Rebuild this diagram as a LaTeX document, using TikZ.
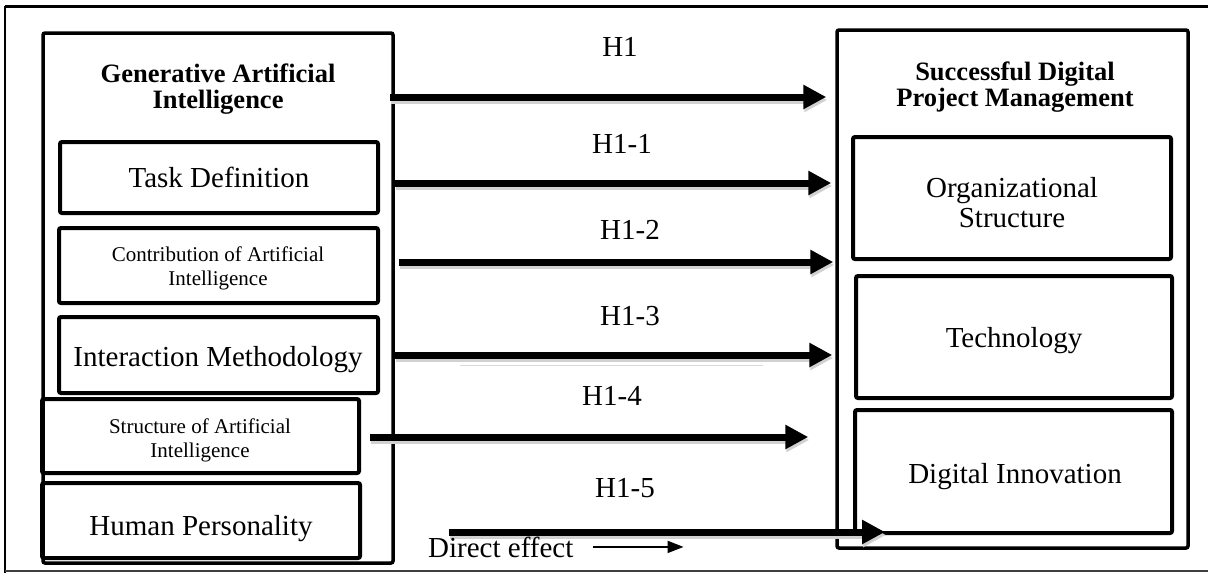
\documentclass[tikz,border=0pt]{standalone}
\usepackage{fontspec}
\setmainfont{Liberation Serif}
\usetikzlibrary{arrows.meta}
\newcommand\fsA{\fontsize{29}{30}\selectfont}
\newcommand\fsB{\fontsize{26.5}{26}\selectfont\bfseries}
\newcommand\fsC{\fontsize{21}{23.5}\selectfont}
\begin{document}
\begin{tikzpicture}[x=1pt,y=-1pt,
  box/.style={draw, line width=4pt, rounded corners=2pt, inner sep=0pt},
  bigbox/.style={draw, line width=3.5pt, rounded corners=2pt, inner sep=0pt},
  txt/.style={inner sep=0pt, font=\fsA},
  ttl/.style={inner sep=0pt, font=\fsB, align=center, anchor=north},
  sml/.style={inner sep=0pt, font=\fsC, align=center, anchor=north},
  hyp/.style={line width=7pt, -{Triangle[length=23pt,width=23pt]}},
  shd/.style={line width=7pt, draw=black!18, -{Triangle[length=23pt,width=23pt]}, transform canvas={shift={(1pt,-3pt)}}},
  thinarrow/.style={line width=1.8pt, -{Triangle[length=16pt,width=12pt]}}
]
\useasboundingbox (0,0) rectangle (1208,573);
% outer frame
\draw[line width=3pt] (5,6) -- (1208,6);
\draw[line width=2pt] (5,6) -- (5,573);
\draw[line width=1.5pt, black!75] (5,571) -- (1208,571);

% left group
\node[bigbox, minimum width=350pt, minimum height=530pt] (gai) at (218,298) {};
\node[ttl] (gait) at (218,64) {Generative Artificial\\Intelligence};
\node[box, minimum width=318pt, minimum height=71pt] (task) at (219,177.5) {};
\node[txt, anchor=base] at (219,187) {Task Definition};
\node[box, minimum width=319pt, minimum height=75pt] (contr) at (218.5,265.5) {};
\node[sml] at (218,247) {Contribution of Artificial\\Intelligence};
\node[box, minimum width=319pt, minimum height=76pt] (inter) at (218.5,355) {};
\node[txt, anchor=base] at (218,366) {Interaction Methodology};
\node[box, minimum width=317pt, minimum height=74pt] (struc) at (200.5,436) {};
\node[sml] at (200,419) {Structure of Artificial\\Intelligence};
\node[box, minimum width=318pt, minimum height=75pt] (human) at (201,520.5) {};
\node[txt, anchor=base] at (201,535) {Human Personality};

% right group
\node[bigbox, minimum width=351pt, minimum height=518pt] (sdpm) at (1012.5,289) {};
\node[ttl] (sdpmt) at (1015,62) {Successful Digital\\Project Management};
\node[box, minimum width=318pt, minimum height=122pt] (org) at (1012,198) {};
\node[txt, align=center, anchor=north, font=\fontsize{29}{30}\selectfont] at (1012,177) {Organizational\\Structure};
\node[box, minimum width=316pt, minimum height=122pt] (tech) at (1014,337) {};
\node[txt, anchor=base] at (1014,347) {Technology};
\node[box, minimum width=317pt, minimum height=123pt] (dinn) at (1013.5,471.5) {};
\node[txt, anchor=base] at (1015,483) {Digital Innovation};

% faint line
\draw[black!15, line width=1pt] (460,365) -- (763,365);

% y levels
\coordinate (y0) at (0,97);
\coordinate (y1) at (0,183);
\coordinate (y2) at (0,262);
\coordinate (y3) at (0,355);
\coordinate (y4) at (0,437);
\coordinate (y5) at (0,532);

% shadows
\draw[shd] ([xshift=-5pt]gai.east |- y0) -- ([xshift=-9pt]sdpm.west |- y0);
\draw[shd] (gai.east |- y1) -- ([xshift=-4pt]sdpm.west |- y1);
\draw[shd] ([xshift=4pt]gai.east |- y2) -- ([xshift=-2pt]sdpm.west |- y2);
\draw[shd] (gai.east |- y3) -- ([xshift=-3pt]sdpm.west |- y3);
\draw[shd] ([xshift=9pt]struc.east |- y4) -- ([xshift=-27pt]sdpm.west |- y4);
\draw[shd] ([xshift=87pt]human.east |- y5) -- ([xshift=32pt]dinn.west |- y5);

% arrows
\draw[hyp] ([xshift=-5pt]gai.east |- y0) -- ([xshift=-9pt]sdpm.west |- y0);
\draw[hyp] (gai.east |- y1) -- ([xshift=-4pt]sdpm.west |- y1);
\draw[hyp] ([xshift=4pt]gai.east |- y2) -- ([xshift=-2pt]sdpm.west |- y2);
\draw[hyp] (gai.east |- y3) -- ([xshift=-3pt]sdpm.west |- y3);
\draw[hyp] ([xshift=9pt]struc.east |- y4) -- ([xshift=-27pt]sdpm.west |- y4);
\draw[hyp] ([xshift=87pt]human.east |- y5) -- ([xshift=32pt]dinn.west |- y5);

% labels
\node[txt, anchor=base] (l0) at (620,56) {H1};
\node[txt, anchor=base] (l1) at (622,153) {H1-1};
\node[txt, anchor=base] (l2) at (630,239) {H1-2};
\node[txt, anchor=base] (l3) at (630,325) {H1-3};
\node[txt, anchor=base] (l4) at (612,405) {H1-4};
\node[txt, anchor=base] (l5) at (625,497) {H1-5};

% legend
\node[txt, anchor=base west] (de) at (428,557) {Direct effect};
\coordinate (de1) at ([xshift=19pt]de.east);
\coordinate (de2) at ([xshift=110pt]de.east);
\draw[thinarrow] (de1) -- (de2);
\end{tikzpicture}
\end{document}
